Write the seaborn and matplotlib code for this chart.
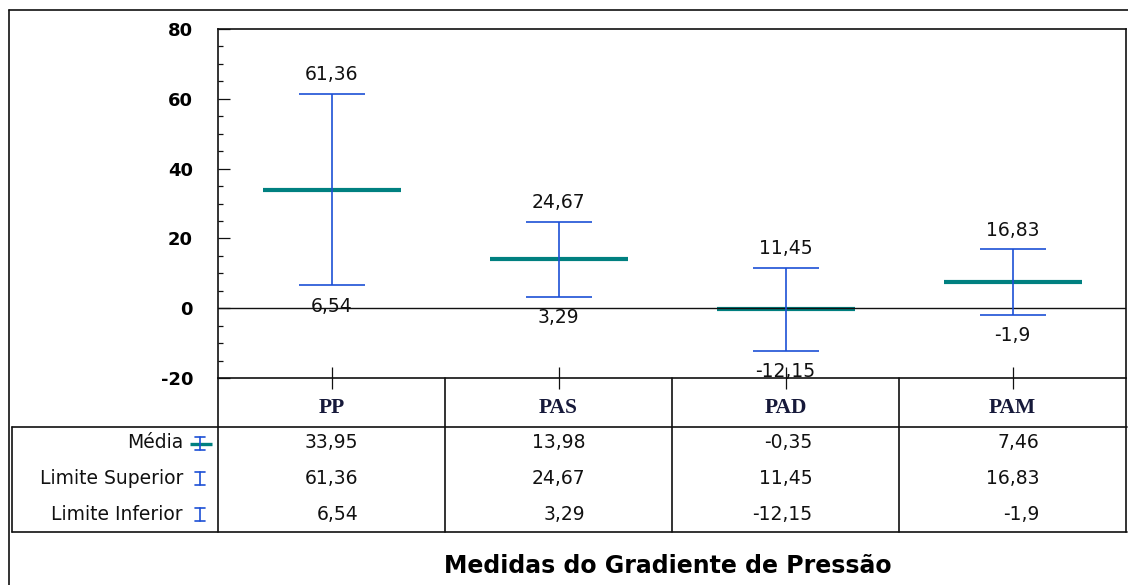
import matplotlib
matplotlib.use("Agg")
import matplotlib.pyplot as plt
import matplotlib.transforms as mtransforms
from matplotlib.lines import Line2D
from matplotlib.ticker import MultipleLocator, FixedLocator
import seaborn as sns
import pandas as pd

# ---- data -------------------------------------------------------------
categorias = ["PP", "PAS", "PAD", "PAM"]
media = [33.95, 13.98, -0.35, 7.46]
limite_superior = [61.36, 24.67, 11.45, 16.83]
limite_inferior = [6.54, 3.29, -12.15, -1.9]
linhas_tabela = ["Média", "Limite Superior", "Limite Inferior"]
titulo = "Medidas do Gradiente de Pressão"
y_ticks = [-20, 0, 20, 40, 60, 80]

# ---- style ------------------------------------------------------------
W, H = 1128, 585
TEAL = "#008080"
BLUE = "#1d50d6"
INK = "#111111"

sns.set_theme(style="white")
plt.rcParams["font.family"] = ["DejaVu Sans"]
plt.rcParams["axes.unicode_minus"] = False

fig = plt.figure(figsize=(W / 100, H / 100), dpi=100)
fig.patch.set_facecolor("white")


def fx(x):
    return x / W


def fy(y):
    return 1 - y / H


def fmt(v):
    return f"{v:g}".replace(".", ",")


df = pd.DataFrame({
    "categoria": categorias,
    "media": media,
    "sup": limite_superior,
    "inf": limite_inferior,
})
df["pos"] = range(len(df))

ax = fig.add_axes([fx(218), fy(378), fx(1126) - fx(218), fy(29) - fy(378)])
ax.set_facecolor("white")

# mean bars
sns.scatterplot(data=df, x="pos", y="media", marker="_", s=99 ** 2,
                linewidth=3.0, color=TEAL, ax=ax, zorder=3, legend=False)

# reference line at zero
ax.axhline(0, color=INK, lw=1.0, zorder=3.5)

# confidence limits
ax.errorbar(df["pos"], df["media"],
            yerr=[df["media"] - df["inf"], df["sup"] - df["media"]],
            fmt="none", ecolor=BLUE, elinewidth=1.2, capsize=24,
            capthick=1.2, zorder=4)

# value labels above / below the caps
for _, r in df.iterrows():
    ax.annotate(fmt(r["sup"]), (r["pos"], r["sup"]), xytext=(0, 14),
                textcoords="offset points", ha="center", va="center",
                fontsize=13.5, color=INK, zorder=5)
    ax.annotate(fmt(r["inf"]), (r["pos"], r["inf"]), xytext=(0, -15),
                textcoords="offset points", ha="center", va="center",
                fontsize=13.5, color=INK, zorder=5)

ax.set_xlim(-0.5, len(categorias) - 0.5)
ax.set_ylim(min(y_ticks), max(y_ticks))
ax.set_xlabel("")
ax.set_ylabel("")

ax.yaxis.set_major_locator(FixedLocator(y_ticks))
ax.yaxis.set_minor_locator(MultipleLocator(5))
ax.set_yticklabels([str(t) for t in y_ticks])
ax.xaxis.set_major_locator(FixedLocator(list(df["pos"])))
ax.set_xticklabels([""] * len(categorias))

ax.tick_params(axis="y", which="major", left=True, direction="in",
               length=8.6, width=0.9, color=INK, pad=18, labelsize=13,
               labelcolor="black")
ax.tick_params(axis="y", which="minor", left=True, direction="in",
               length=3.6, width=0.9, color=INK)
ax.tick_params(axis="x", which="major", bottom=True, direction="inout",
               length=16.5, width=0.9, color=INK)
for lab in ax.get_yticklabels():
    lab.set_fontweight("bold")

for sp in ax.spines.values():
    sp.set_visible(True)
    sp.set_color(INK)
    sp.set_linewidth(1.2)

# ---- data table below the axes ---------------------------------------
bt = mtransforms.blended_transform_factory(ax.transData, fig.transFigure)
edges = [p - 0.5 for p in df["pos"]] + [len(categorias) - 0.5]


def fig_line(xs, ys, **kw):
    fig.add_artist(Line2D([fx(x) for x in xs], [fy(y) for y in ys],
                          transform=fig.transFigure, **kw))


line_kw = dict(color=INK, lw=1.2)
for e in edges:
    ax.add_artist(Line2D([e, e], [fy(378), fy(532)], transform=bt,
                         clip_on=False, **line_kw))
fig_line([12, 1127], [427, 427], **line_kw)
fig_line([12, 1127], [532, 532], **line_kw)
fig_line([12, 12], [427, 532], **line_kw)

# outer frame
fig_line([9, 9], [10, 585], **line_kw)
fig_line([9, 1128], [10, 10], **line_kw)

# column headers
for _, r in df.iterrows():
    ax.text(r["pos"], fy(408), r["categoria"], transform=bt,
            ha="center", va="center", fontsize=15.5, fontweight="bold",
            family=["Liberation Serif", "DejaVu Serif"], color="#16193a")

# rows
row_y = [443, 478, 514]
row_vals = [df["media"], df["sup"], df["inf"]]
for label, yy, vals in zip(linhas_tabela, row_y, row_vals):
    fig.text(fx(183), fy(yy), label, ha="right", va="center",
             fontsize=13.5, color=INK)
    for p, v in zip(df["pos"], vals):
        ax.text(p + 0.118, fy(yy), fmt(v), transform=bt, ha="right",
                va="center", fontsize=13.5, color=INK)

# row legend keys
fig_line([190, 212], [444, 444], color=TEAL, lw=2.4, solid_capstyle="butt")
for yy in row_y:
    top, bot = yy - 6.5, yy + 6.5
    fig_line([200, 200], [top, bot], color=BLUE, lw=1.2)
    fig_line([195, 205], [top, top], color=BLUE, lw=1.2)
    fig_line([195, 205], [bot, bot], color=BLUE, lw=1.2)

# title
fig.text(fx(668), fy(566), titulo, ha="center", va="center",
         fontsize=17, fontweight="bold", color="black")

fig.savefig("out.png", dpi=100, facecolor="white")
